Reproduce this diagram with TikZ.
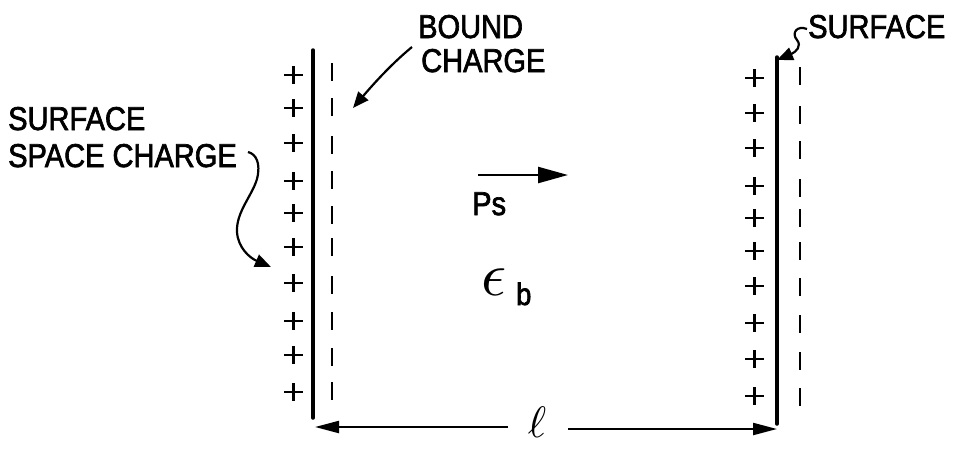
\documentclass[tikz,border=0pt]{standalone}
\usepackage{fontspec}
\setmainfont{Liberation Sans}[FakeStretch=0.88,FakeBold=2]
\usetikzlibrary{arrows.meta}
\begin{document}
\begin{tikzpicture}[x=1pt,y=-1pt,
  lbl/.style={inner sep=0pt, anchor=base west, font=\fontsize{33}{33}\selectfont},
  wall/.style={line width=3.5pt, line cap=round},
  dashmark/.style={line width=2.6pt},
  plusmark/.style={line width=2.4pt},
  leader/.style={line width=2.2pt, -{Triangle[length=16pt,width=13pt]}},
  dimline/.style={line width=2.2pt, -{Triangle[length=24pt,width=12pt]}},
  polar/.style={line width=2.4pt, -{Triangle[length=30pt,width=16pt]}}]
\useasboundingbox (0,0) rectangle (955,448);
\fill[white] (0,0) rectangle (955,448);

% walls
\coordinate (lt) at (313,50);
\coordinate (lb) at (313,418);
\coordinate (rt) at (777,57);
\coordinate (rb) at (777,424);
\draw[wall] (lt) -- (lb);
\draw[wall] (rt) -- (rb);

% plus charges
\foreach \y in {75,108,143,181,213,247,283,321,355,392}
  \draw[plusmark] (284,\y) -- (303,\y) (293.5,\y-9) -- (293.5,\y+9);
\foreach \y in {78,113,148,186,218,251,286,323,359,396}
  \draw[plusmark] (745,\y) -- (764,\y) (754.5,\y-9) -- (754.5,\y+9);

% bound (negative) charges
\foreach \y in {72,107,145,180,215,247,285,321,357,391}
  \draw[dashmark] (332,\y-9) -- (332,\y+9);
\foreach \y in {76,115,150,188,218,251,287,324,361,397}
  \draw[dashmark] (800,\y-9) -- (800,\y+9);

% labels
\node[lbl] (ssc1) at (8,130) {SURFACE};
\node[lbl] (ssc2) at (8,167) {SPACE CHARGE};
\node[lbl] (bc1) at (418,38) {BOUND};
\node[lbl] (bc2) at (421,72) {CHARGE};
\node[lbl] (surf) at (808,38) {SURFACE};
\node[lbl] (ps) at (472,215) {Ps};
\node[inner sep=0pt, anchor=base west] (eps) at (481,295)
  {\scalebox{6.2}{$\epsilon$}};
\node[inner sep=0pt, anchor=base west, font=\fontsize{31}{31}\selectfont] (epsb) at (516,305) {b};
\node[inner sep=0pt, anchor=base] (ell) at (537,437)
  {\scalebox{4.4}{$\ell$}};

% leaders
\coordinate (bctip) at (353,108);
\draw[leader] (412,47) .. controls (390,65) and (370,88) .. (bctip);

\coordinate (ssctip) at (271,267);
\draw[leader] (248,152) .. controls (256,154) and (261,163) .. (257,179)
  .. controls (252,196) and (236,212) .. (237,232)
  .. controls (238,248) and (250,258) .. (ssctip);

\coordinate (surftip) at (777,60);
\draw[leader] (807,29) .. controls (797,25) and (791,33) .. (797,40)
  .. controls (802,46) and (796,52) .. (surftip);

% polarisation arrow
\coordinate (pstail) at (478,175);
\coordinate (pshead) at (568,175);
\draw[polar] (pstail) -- (pshead);

% dimension l
\coordinate (dl) at (315,427);
\coordinate (dr) at (777,429);
\coordinate (dlm) at (508,427);
\coordinate (drm) at (568,429);
\draw[dimline] (dlm) -- (dl);
\draw[dimline] (drm) -- (dr);
\end{tikzpicture}
\end{document}
